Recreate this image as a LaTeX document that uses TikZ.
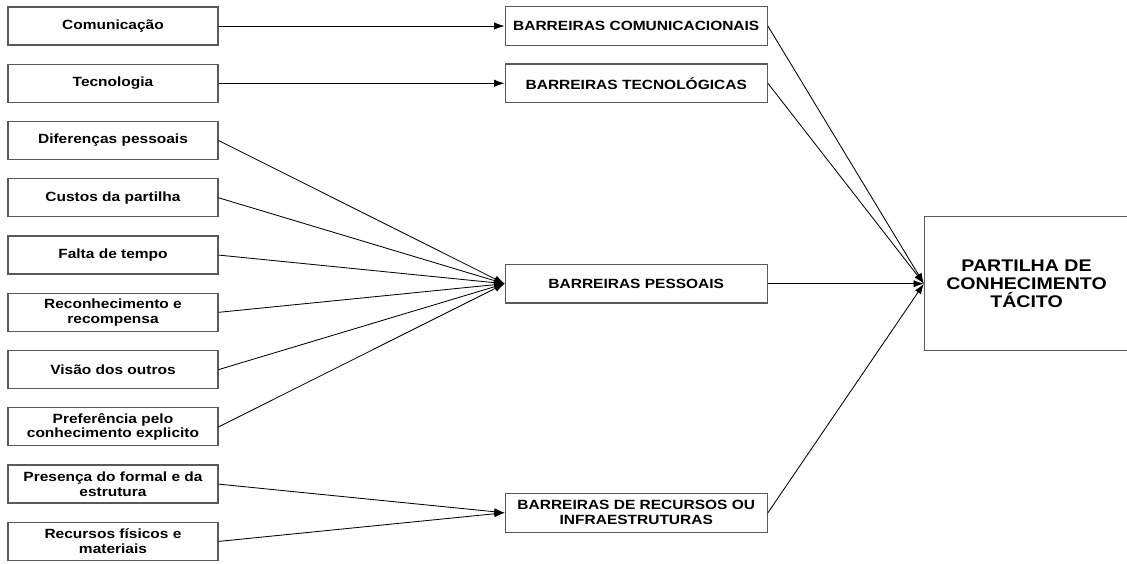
\documentclass[tikz,border=0pt]{standalone}
\usepackage{fontspec}
\setmainfont{Liberation Sans}[FakeStretch=1.16]
\usetikzlibrary{arrows.meta,positioning,calc}

\begin{document}
\begin{tikzpicture}[
    font=\fontsize{9.5}{10.5}\selectfont\bfseries,
    arr/.style={-{Latex[length=2.6mm,width=1.8mm]}, line width=0.6pt},
    fator/.style={
      draw=black!65, line width=0.9pt, align=center,
      minimum width=5.25cm, minimum height=0.95cm, inner sep=1pt
    },
    barreira/.style={
      draw=black!65, line width=0.9pt, align=center,
      minimum width=6.55cm, minimum height=0.97cm, inner sep=1pt
    },
    partilha/.style={
      draw=black!65, line width=0.9pt, align=center,
      minimum width=5.1cm, minimum height=3.35cm, inner sep=1pt,
      font=\fontsize{12}{13}\selectfont\bfseries
    }
  ]
    \useasboundingbox (0,0) rectangle (28.175,-14.075);

    % --- Fatores (coluna da esquerda) ---
    \node[fator] (comun) at (2.825,-0.65) {Comunicação};
    \node[fator, below=0.45cm of comun] (tecno) {Tecnologia};
    \node[fator, below=0.45cm of tecno] (difer) {Diferenças pessoais};
    \node[fator, below=0.45cm of difer] (custos) {Custos da partilha};
    \node[fator, below=0.45cm of custos] (falta) {Falta de tempo};
    \node[fator, below=0.45cm of falta] (recon)
      {Reconhecimento e\\recompensa};
    \node[fator, below=0.45cm of recon] (visao) {Visão dos outros};
    \node[fator, below=0.45cm of visao] (prefer)
      {Preferência pelo\\conhecimento explicito};
    \node[fator, below=0.45cm of prefer] (presenca)
      {Presença do formal e da\\estrutura};
    \node[fator, below=0.45cm of presenca] (recursos)
      {Recursos físicos e\\materiais};
    \coordinate (meiopes) at ($(falta)!0.5!(recon)$);
    \coordinate (meiorec) at ($(presenca)!0.5!(recursos)$);

    % --- Barreiras ---
    \node[barreira, right=7.15cm of comun] (bcom)
      {BARREIRAS COMUNICACIONAIS};
    \node[barreira, right=7.15cm of tecno] (btec)
      {BARREIRAS TECNOLÓGICAS};
    \node[barreira] (bpes) at (bcom |- meiopes)
      {BARREIRAS PESSOAIS};
    \node[barreira] (brec) at (bcom |- meiorec)
      {BARREIRAS DE RECURSOS OU\\INFRAESTRUTURAS};

    % --- Partilha ---
    \node[partilha, right=3.9cm of bpes] (ptc)
      {PARTILHA DE\\CONHECIMENTO\\TÁCITO};

    % --- Flechas ---
    \draw[arr] (comun.east) -- (bcom.west);
    \draw[arr] (tecno.east) -- (btec.west);
    \draw[arr] (difer.east) -- (bpes.west);
    \draw[arr] (custos.east) -- (bpes.west);
    \draw[arr] (falta.east) -- (bpes.west);
    \draw[arr] (recon.east) -- (bpes.west);
    \draw[arr] (visao.east) -- (bpes.west);
    \draw[arr] (prefer.east) -- (bpes.west);
    \draw[arr] (presenca.east) -- (brec.west);
    \draw[arr] (recursos.east) -- (brec.west);
    \draw[arr] (bcom.east) -- (ptc.west);
    \draw[arr] (btec.east) -- (ptc.west);
    \draw[arr] (bpes.east) -- (ptc.west);
    \draw[arr] (brec.east) -- (ptc.west);
  \end{tikzpicture}
\end{document}
